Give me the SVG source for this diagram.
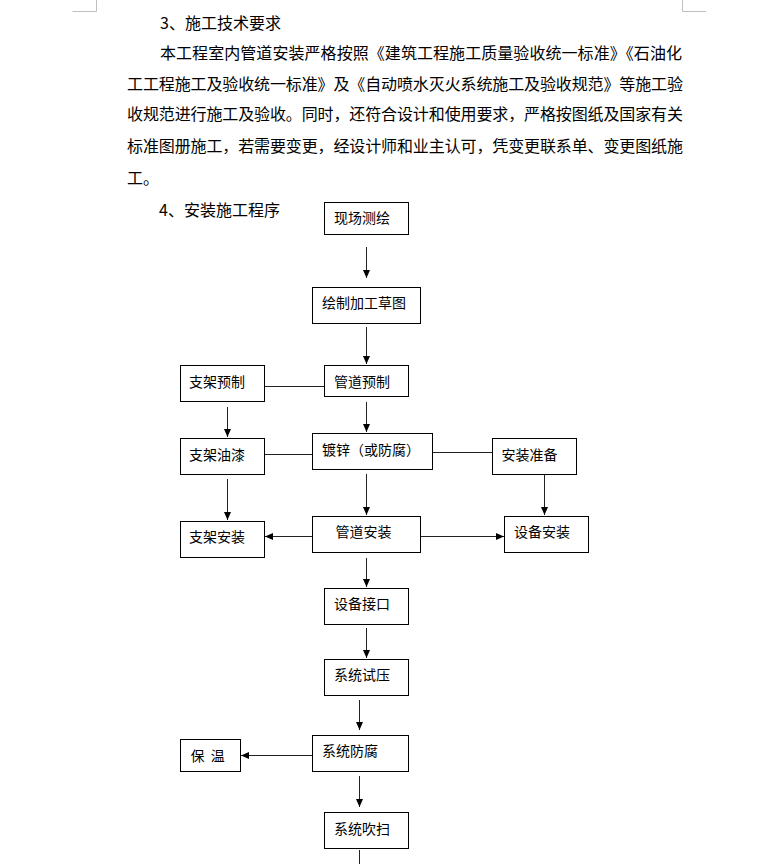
<svg xmlns="http://www.w3.org/2000/svg" width="778" height="864" viewBox="0 0 778 864">
<defs>
<style>
.para{font-family:"Noto Sans CJK SC","Noto Sans",sans-serif;font-size:16px;fill:#000}
.lbl{font-family:"Noto Sans CJK SC","Noto Sans",sans-serif;font-size:14px;fill:#000}
.box{fill:#fff;stroke:#000;stroke-width:1}
.con{fill:none;stroke:#222;stroke-width:1}
.mark{fill:none;stroke:#bfbfbf;stroke-width:1}
</style>
<marker id="ah" markerUnits="userSpaceOnUse" markerWidth="8" markerHeight="8" refX="8" refY="3.5" orient="auto">
<path d="M0,0 L8,3.5 L0,7 z" fill="#000"/>
</marker>
</defs>
<rect width="778" height="864" fill="#fff"/>
<path class="mark" d="M96.5,0 V11.5 H72.5 M682.5,0 V11.5 H706"/>
<g id="text">
<text class="para" x="160" y="28.6">3、施工技术要求</text>
<text class="para" x="160" y="59.1" textLength="522" lengthAdjust="spacing">本工程室内管道安装严格按照《建筑工程施工质量验收统一标准》《石油化</text>
<text class="para" x="127" y="89.8" textLength="556" lengthAdjust="spacing">工工程施工及验收统一标准》及《自动喷水灭火系统施工及验收规范》等施工验</text>
<text class="para" x="127" y="120.1" textLength="556" lengthAdjust="spacing">收规范进行施工及验收。同时，还符合设计和使用要求，严格按图纸及国家有关</text>
<text class="para" x="127" y="152.1" textLength="556" lengthAdjust="spacing">标准图册施工，若需要变更，经设计师和业主认可，凭变更联系单、变更图纸施</text>
<text class="para" x="127" y="183.6">工。</text>
<text class="para" x="159" y="215.8">4、安装施工程序</text>
</g>
<g id="connectors">
<line class="con" x1="366.5" y1="247" x2="366.5" y2="278" marker-end="url(#ah)"/>
<line class="con" x1="366.5" y1="327" x2="366.5" y2="364" marker-end="url(#ah)"/>
<line class="con" x1="264.5" y1="386.5" x2="324.5" y2="386.5"/>
<line class="con" x1="227.5" y1="407" x2="227.5" y2="437" marker-end="url(#ah)"/>
<line class="con" x1="366.5" y1="402" x2="366.5" y2="432" marker-end="url(#ah)"/>
<line class="con" x1="264.5" y1="454.5" x2="312.5" y2="454.5"/>
<line class="con" x1="432.5" y1="452.5" x2="492.5" y2="452.5"/>
<line class="con" x1="227.5" y1="479" x2="227.5" y2="520" marker-end="url(#ah)"/>
<line class="con" x1="366.5" y1="474" x2="366.5" y2="515" marker-end="url(#ah)"/>
<line class="con" x1="544.5" y1="474" x2="544.5" y2="515" marker-end="url(#ah)"/>
<line class="con" x1="312.5" y1="536.5" x2="265" y2="536.5" marker-end="url(#ah)"/>
<line class="con" x1="420.5" y1="536.5" x2="504" y2="536.5" marker-end="url(#ah)"/>
<line class="con" x1="366.5" y1="558" x2="366.5" y2="587" marker-end="url(#ah)"/>
<line class="con" x1="366.5" y1="628" x2="366.5" y2="658" marker-end="url(#ah)"/>
<line class="con" x1="359.5" y1="700" x2="359.5" y2="730" marker-end="url(#ah)"/>
<line class="con" x1="312.5" y1="755.5" x2="241" y2="755.5" marker-end="url(#ah)"/>
<line class="con" x1="359.5" y1="776" x2="359.5" y2="807" marker-end="url(#ah)"/>
<line class="con" x1="359.5" y1="850" x2="359.5" y2="864"/>
</g>
<g id="n1"><rect class="box" x="324.5" y="202.5" width="84" height="32"/><text class="lbl" x="334" y="222.8">现场测绘</text></g>
<g id="n2"><rect class="box" x="312.5" y="287.5" width="108" height="36"/><text class="lbl" x="322" y="308.3">绘制加工草图</text></g>
<g id="n3"><rect class="box" x="180.5" y="365.5" width="84" height="36"/><text class="lbl" x="189" y="387.3">支架预制</text></g>
<g id="n4"><rect class="box" x="324.5" y="365.5" width="84" height="31"/><text class="lbl" x="334" y="387">管道预制</text></g>
<g id="n5"><rect class="box" x="312.5" y="433.5" width="120" height="36"/><text class="lbl" x="322" y="454.6">镀锌（或防腐）</text></g>
<g id="n6"><rect class="box" x="180.5" y="438.5" width="84" height="36"/><text class="lbl" x="189" y="459.8">支架油漆</text></g>
<g id="n7"><rect class="box" x="492.5" y="438.5" width="84" height="36"/><text class="lbl" x="501.5" y="459.8">安装准备</text></g>
<g id="n8"><rect class="box" x="180.5" y="521.5" width="84" height="36"/><text class="lbl" x="189" y="542">支架安装</text></g>
<g id="n9"><rect class="box" x="312.5" y="516.5" width="108" height="36"/><text class="lbl" x="335.5" y="537.3">管道安装</text></g>
<g id="n10"><rect class="box" x="504.5" y="516.5" width="84" height="36"/><text class="lbl" x="514" y="537.3">设备安装</text></g>
<g id="n11"><rect class="box" x="324.5" y="588.5" width="84" height="36"/><text class="lbl" x="334" y="609">设备接口</text></g>
<g id="n12"><rect class="box" x="324.5" y="659.5" width="84" height="36"/><text class="lbl" x="334" y="680.3">系统试压</text></g>
<g id="n13"><rect class="box" x="180.5" y="739.5" width="60" height="32"/><text class="lbl" x="190.5" y="760.6" word-spacing="3">保 温</text></g>
<g id="n14"><rect class="box" x="312.5" y="735.5" width="96" height="36"/><text class="lbl" x="322" y="756.3">系统防腐</text></g>
<g id="n15"><rect class="box" x="324.5" y="812.5" width="84" height="36"/><text class="lbl" x="334" y="833.6">系统吹扫</text></g>
</svg>
